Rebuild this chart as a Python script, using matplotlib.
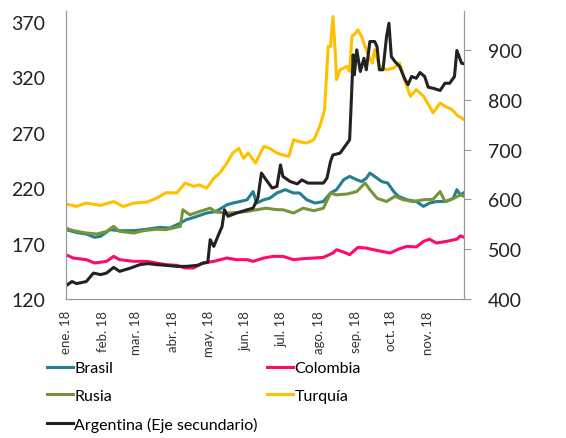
import matplotlib
matplotlib.use("Agg")
import matplotlib.pyplot as plt
import pandas as pd

plt.rcParams["font.family"] = ["Lato", "DejaVu Sans"]

START = pd.Timestamp("2018-01-01")

# days since 1 Jan 2018
brasil_day = [0, 9, 17, 24, 29, 37, 45, 57, 68, 79, 87, 96, 101, 110, 118, 126, 135, 140, 146,
              152, 157, 160, 166, 171, 177, 184, 191, 196, 202, 209, 216, 222, 227, 233, 238,
              244, 248, 252, 255, 259, 265, 270, 275, 279, 286, 294, 300, 305, 311, 319, 325,
              328, 331, 334]
brasil = [182.6, 180, 178.7, 175.7, 176.6, 182.6, 181.7, 181.7, 183, 184.7, 184, 188.6, 191.6,
          194.6, 197.6, 199, 205, 206.6, 208, 209.6, 217, 206.6, 209.6, 211, 215.7, 218.7,
          215.7, 215.7, 209.6, 206.6, 208, 215.7, 218.7, 227.7, 230.7, 227.7, 226, 229, 233.7,
          230.7, 226, 224.7, 217, 212.7, 209.6, 208, 203.6, 206.6, 208, 208, 211, 218.7, 214,
          216]

colombia_day = [0, 6, 17, 24, 34, 40, 45, 57, 68, 76, 84, 93, 100, 107, 115, 124, 135, 143, 152,
                157, 166, 174, 182, 191, 199, 208, 216, 224, 227, 233, 238, 245, 252, 258, 265,
                272, 279, 286, 294, 300, 305, 311, 319, 328, 331, 334]
colombia = [160, 157, 155.5, 152.5, 154, 158.5, 155.5, 154, 154, 152.5, 151, 150.4, 148, 148,
            152.5, 154, 157, 155.5, 155.5, 154, 157, 158.5, 158.5, 155.5, 156.4, 157, 157.6,
            161.5, 164.5, 162.4, 160, 166.6, 166, 164.5, 163, 161.5, 165, 167.5, 167, 172, 174,
            170.5, 172, 174, 177, 175.7]

rusia_day = [0, 6, 17, 26, 34, 40, 45, 57, 65, 76, 84, 96, 98, 104, 112, 121, 126, 135, 143, 152,
             160, 168, 177, 182, 191, 199, 208, 216, 222, 227, 236, 244, 251, 255, 261, 269, 276,
             283, 291, 300, 308, 314, 318, 325, 331, 334]
rusia = [184, 181.7, 179.6, 178.7, 181, 185.6, 181, 179.6, 181.7, 183, 182.6, 185.6, 200.6, 196,
         199, 202, 198.5, 197.6, 198, 199, 200.6, 202, 200.6, 200.6, 197.6, 202, 199.7, 202,
         215.7, 214, 214.8, 217, 224.7, 218.7, 211, 208, 212.7, 209.6, 208, 209.6, 210, 217,
         208, 210.6, 214, 212.7]

turquia_day = [0, 9, 17, 29, 40, 48, 57, 68, 76, 84, 93, 100, 107, 112, 118, 124, 129, 135, 140,
               145, 149, 153, 159, 166, 171, 177, 182, 187, 191, 196, 202, 208, 213, 217, 220,
               222, 224, 226, 227, 230, 236, 238, 240, 243, 245, 248, 251, 254, 257, 259, 263,
               269, 275, 280, 284, 289, 294, 300, 305, 308, 314, 318, 324, 328, 334]
turquia = [205.7, 203.6, 206.6, 204.5, 208, 203.6, 206.6, 207.5, 211, 216, 215.7, 224.7, 221.7,
           223, 220, 229, 233.7, 242.7, 251.8, 256, 247, 251.8, 242.7, 257.8, 256, 251.8, 250,
           248.8, 263.8, 262, 260.8, 263.8, 275.8, 290.9, 348, 348, 375, 342, 318, 327, 330,
           325.5, 357, 360, 363, 357, 348, 339, 333, 345, 330, 327, 328.5, 333, 318, 303, 309,
           303, 294, 288, 297, 294, 291, 286, 282]

argentina_day = [0, 5, 9, 17, 23, 29, 34, 40, 45, 54, 62, 69, 76, 84, 93, 101, 110, 115, 119, 121,
                 124, 128, 131, 133, 136, 143, 152, 157, 161, 164, 168, 173, 177, 180, 182, 188,
                 194, 198, 203, 210, 216, 219, 222, 224, 230, 234, 238, 239, 241, 242, 244, 247,
                 250, 252, 255, 259, 261, 263, 266, 269, 271, 273, 276, 280, 284, 287, 290, 294,
                 297, 301, 304, 308, 314, 318, 322, 326, 328, 332, 334]
argentina = [426.7, 435, 431, 435, 452, 449, 452, 463.5, 455.5, 462, 469, 471, 469, 467.5, 465.5,
             465.5, 467.5, 472, 473.5, 519, 505.6, 529, 545.7, 579, 566, 572.5, 579, 582.5, 602.5,
             652.7, 639, 622.6, 626, 669, 646, 636, 631, 639, 632.6, 632.6, 632.6, 642.6, 676,
             689, 692.8, 706, 719.5, 773, 890, 850, 900, 856.5, 883, 860, 916.7, 916.7, 906.7,
             860, 860, 926.7, 953.5, 886.6, 876.6, 866.6, 843, 830, 846.5, 843, 854.5, 846.5,
             825, 823, 818.5, 833, 833, 846.5, 898.7, 873, 872]

month_labels = ["ene. 18", "feb. 18", "mar. 18", "abr. 18", "may. 18", "jun. 18",
                "jul. 18", "ago. 18", "sep. 18", "oct. 18", "nov. 18"]


def to_dates(days):
    return START + pd.to_timedelta(days, unit="D")


fig = plt.figure(figsize=(5.66, 4.39), dpi=100)
ax = fig.add_axes([0.1166, 0.3166, 0.7032, 0.6561])
ax2 = ax.twinx()

lw = 2.2
l_bra, = ax.plot(to_dates(brasil_day), brasil, color="#23818f", lw=lw, label="Brasil")
l_col, = ax.plot(to_dates(colombia_day), colombia, color="#ff0a6c", lw=lw, label="Colombia")
l_rus, = ax.plot(to_dates(rusia_day), rusia, color="#76953a", lw=lw, label="Rusia")
l_tur, = ax.plot(to_dates(turquia_day), turquia, color="#ffc000", lw=lw, label="Turquía")
l_arg, = ax2.plot(to_dates(argentina_day), argentina, color="#222222", lw=lw,
                  label="Argentina (Eje secundario)")

ax.set_xlim(START, START + pd.Timedelta(days=334))
ax.set_ylim(120, 380)
ax2.set_ylim(400, 978)
ax.set_yticks([120, 170, 220, 270, 320, 370])
ax2.set_yticks([400, 500, 600, 700, 800, 900])

ticks = [START + pd.DateOffset(months=i) for i in range(11)]
ax.set_xticks(ticks)
ax.set_xticklabels(month_labels, rotation=90, fontsize=9.5, color="#333333")
ax.tick_params(axis="x", length=0, pad=8)
ax.tick_params(axis="y", length=0, pad=15, labelsize=14, labelcolor="#222222")
ax2.tick_params(axis="y", length=5, width=0.8, color="#999999", pad=12, labelsize=14,
                labelcolor="#222222")

for a in (ax, ax2):
    a.spines["top"].set_visible(False)
    for s in ("left", "right", "bottom"):
        a.spines[s].set_color("#999999")
        a.spines[s].set_linewidth(0.8)

fig.legend(handles=[l_bra, l_rus, l_arg, l_col, l_tur], ncol=2, frameon=False,
           loc="upper left", bbox_to_anchor=(0.072, 0.19), fontsize=11.5,
           handlelength=1.6, handletextpad=0.1, columnspacing=0.6, labelspacing=0.85,
           borderaxespad=0)

fig.savefig("out.png", dpi=100)
